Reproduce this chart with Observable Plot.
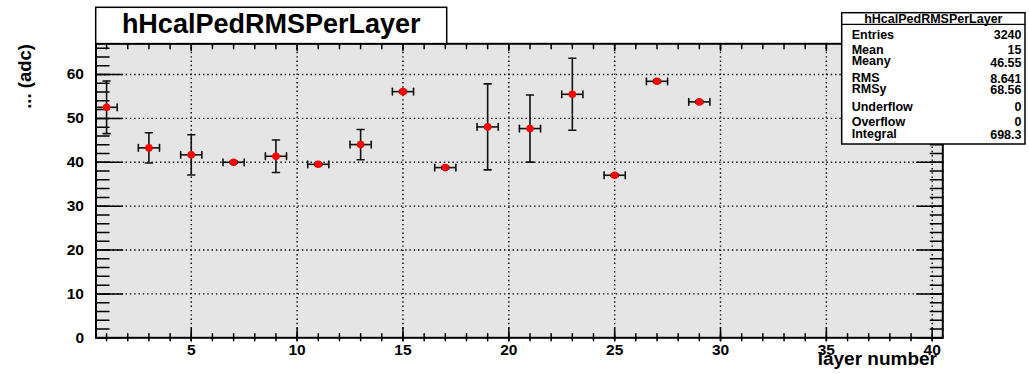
<!DOCTYPE html>
<html>
<head>
<meta charset="utf-8">
<script src="https://cdn.jsdelivr.net/npm/d3@7"></script>
<script src="https://cdn.jsdelivr.net/npm/@observablehq/plot@0.6"></script>
<style>
  body { margin: 0; background: #fff; }
  #chart { position: relative; width: 1029px; height: 374px; }
</style>
</head>
<body>
<div id="chart"></div>
<script>
// Pedestal RMS per HCAL layer (profile: mean value and error per bin)
const layers    = [1, 3, 5, 7, 9, 11, 13, 15, 17, 19, 21, 23, 25, 27, 29];
const rmsValues = [52.53, 43.28, 41.69, 40.0, 41.37, 39.54, 44.03, 56.1, 38.79, 48.06, 47.68, 55.49, 37.04, 58.45, 53.76];
const rmsErrors = [6.0, 3.45, 4.6, 0.3, 3.7, 0.3, 3.45, 0.3, 0.3, 9.8, 7.65, 8.2, 0.3, 0.3, 0.3];
const binHalfWidth = 0.5;

const xMajorTicks = [5, 10, 15, 20, 25, 30, 35, 40];
const yMajorTicks = [0, 10, 20, 30, 40, 50, 60];

const histName = "hHcalPedRMSPerLayer";
const xTitle = "layer number";
const yTitle = "... (adc)";

const statLabels = ["Entries", "Mean", "Meany", "RMS", "RMSy", "Underflow", "Overflow", "Integral"];
const statValues = ["3240", "15", "46.55", "8.641", "68.56", "0", "0", "698.3"];

const points = layers.map((layer, i) => ({layer, value: rmsValues[i], err: rmsErrors[i]}));

const xDomain = [0.5, 40.5];
const yDomain = [0, 67];
const xMinorTicks = d3.range(1, 41);
const yMinorTicks = d3.range(0, 67, 2);

const FONT = "'Liberation Sans', Arial, Helvetica, sans-serif";

// straight segment used for tick marks and error-bar caps
const segment = {draw(ctx, l) { ctx.moveTo(0, 0); ctx.lineTo(0, -l); }};
const tickStyle = {shape: segment, anchor: "start", stroke: "black", strokeWidth: 1.5};

const plot = Plot.plot({
  width: 1029,
  height: 374,
  marginLeft: 95.5,
  marginRight: 86.7,
  marginTop: 43.3,
  marginBottom: 36.7,
  style: {fontFamily: FONT, background: "transparent", overflow: "visible"},
  x: {domain: xDomain, label: null},
  y: {domain: yDomain, label: null},
  marks: [
    Plot.frame({fill: "#e5e5e5", stroke: null}),
    Plot.gridX(xMajorTicks, {stroke: "black", strokeOpacity: 1, strokeWidth: 1.4, strokeDasharray: "1.4,2.9"}),
    Plot.gridY(yMajorTicks.filter(d => d > 0), {stroke: "black", strokeOpacity: 1, strokeWidth: 1.4, strokeDasharray: "1.4,2.9"}),

    // bottom axis ticks
    Plot.vector(xMinorTicks, {x: d => d, y: yDomain[0], length: 7, dy: 3, ...tickStyle}),
    Plot.vector(xMajorTicks, {x: d => d, y: yDomain[0], length: 13, dy: 3, ...tickStyle}),
    // top axis ticks
    Plot.vector(xMinorTicks, {x: d => d, frameAnchor: "top", rotate: 180, length: 5, ...tickStyle}),
    Plot.vector(xMajorTicks, {x: d => d, frameAnchor: "top", rotate: 180, length: 7, ...tickStyle}),
    // left axis ticks
    Plot.vector(yMinorTicks, {y: d => d, frameAnchor: "left", rotate: 90, length: 13, ...tickStyle}),
    Plot.vector(yMajorTicks, {y: d => d, frameAnchor: "left", rotate: 90, length: 26.5, ...tickStyle}),
    // right axis ticks
    Plot.vector(yMinorTicks, {y: d => d, frameAnchor: "right", rotate: -90, length: 12.5, ...tickStyle}),
    Plot.vector(yMajorTicks, {y: d => d, frameAnchor: "right", rotate: -90, length: 26, ...tickStyle}),

    // error bars
    Plot.ruleX(points, {x: "layer", y1: d => d.value - d.err, y2: d => d.value + d.err, stroke: "#111", strokeWidth: 1.6}),
    Plot.ruleY(points, {y: "value", x1: d => d.layer - binHalfWidth, x2: d => d.layer + binHalfWidth, stroke: "#111", strokeWidth: 1.6}),
    Plot.vector(points, {x: "layer", y: d => d.value + d.err, rotate: 90, length: 7, shape: segment, anchor: "middle", stroke: "#111", strokeWidth: 1.6}),
    Plot.vector(points, {x: "layer", y: d => d.value - d.err, rotate: 90, length: 7, shape: segment, anchor: "middle", stroke: "#111", strokeWidth: 1.6}),
    Plot.vector(points, {x: d => d.layer - binHalfWidth, y: "value", length: 6.7, shape: segment, anchor: "middle", stroke: "#111", strokeWidth: 1.6}),
    Plot.vector(points, {x: d => d.layer + binHalfWidth, y: "value", length: 6.7, shape: segment, anchor: "middle", stroke: "#111", strokeWidth: 1.6}),

    // markers
    Plot.dot(points, {x: "layer", y: "value", r: 3.8, fill: "#ff0000", stroke: null}),

    Plot.frame({stroke: "black", strokeWidth: 2}),

    Plot.axisX(xMajorTicks, {tickSize: 0, tickPadding: 6, fontSize: 15.5, fontWeight: "bold", fill: "black", label: null}),
    Plot.axisY(yMajorTicks, {tickSize: 0, tickPadding: 12, fontSize: 15.5, fontWeight: "bold", fill: "black", label: null})
  ]
});

document.getElementById("chart").appendChild(plot);

const svg = d3.select(plot);

// axis titles
svg.append("text")
  .attr("x", 937).attr("y", 365)
  .attr("text-anchor", "end")
  .attr("font-family", FONT).attr("font-weight", "bold").attr("font-size", 19)
  .text(xTitle);

svg.append("text")
  .attr("transform", "translate(31,44) rotate(-90)")
  .attr("text-anchor", "end")
  .attr("font-family", FONT).attr("font-weight", "bold").attr("font-size", 18.5)
  .text(yTitle);

// histogram title box
const titleBox = svg.append("g");
titleBox.append("rect")
  .attr("x", 95.7).attr("y", 7.3).attr("width", 351).attr("height", 36.3)
  .attr("fill", "white").attr("stroke", "black").attr("stroke-width", 1.5);
titleBox.append("text")
  .attr("x", 271.2).attr("y", 33.3)
  .attr("text-anchor", "middle")
  .attr("font-family", FONT).attr("font-weight", "bold").attr("font-size", 27)
  .text(histName);

// statistics box
const stats = svg.append("g").attr("font-family", FONT).attr("font-weight", "bold");
const sx = 841.7, sy = 12.7, sw = 183.3, sh = 131.3, headerH = 11.6;
stats.append("rect")
  .attr("x", sx).attr("y", sy).attr("width", sw).attr("height", sh)
  .attr("fill", "white").attr("stroke", "black").attr("stroke-width", 1.5);
stats.append("line")
  .attr("x1", sx).attr("x2", sx + sw).attr("y1", sy + headerH).attr("y2", sy + headerH)
  .attr("stroke", "black").attr("stroke-width", 1.2);
stats.append("text")
  .attr("x", sx + sw / 2).attr("y", sy + 9.8)
  .attr("text-anchor", "middle").attr("font-size", 12.5)
  .text(histName);

const rowH = (sh - headerH) / statLabels.length;
// lines with descenders sit a little higher, paired lines are packed closer
const labelNudge = [3, 3, -1, 0.5, -3, 0, 0, -3];
const valueNudge = [3, 3, 0.5, 1.5, -2, 0, 0, -2];
statLabels.forEach((label, i) => {
  const base = sy + headerH + rowH * (i + 0.5) + 4.5;
  stats.append("text")
    .attr("x", sx + 10).attr("y", base + labelNudge[i])
    .attr("text-anchor", "start").attr("font-size", 12.5)
    .text(label);
  stats.append("text")
    .attr("x", sx + sw - 3.5).attr("y", base + valueNudge[i])
    .attr("text-anchor", "end").attr("font-size", 12.5)
    .text(statValues[i]);
});
</script>
</body>
</html>
